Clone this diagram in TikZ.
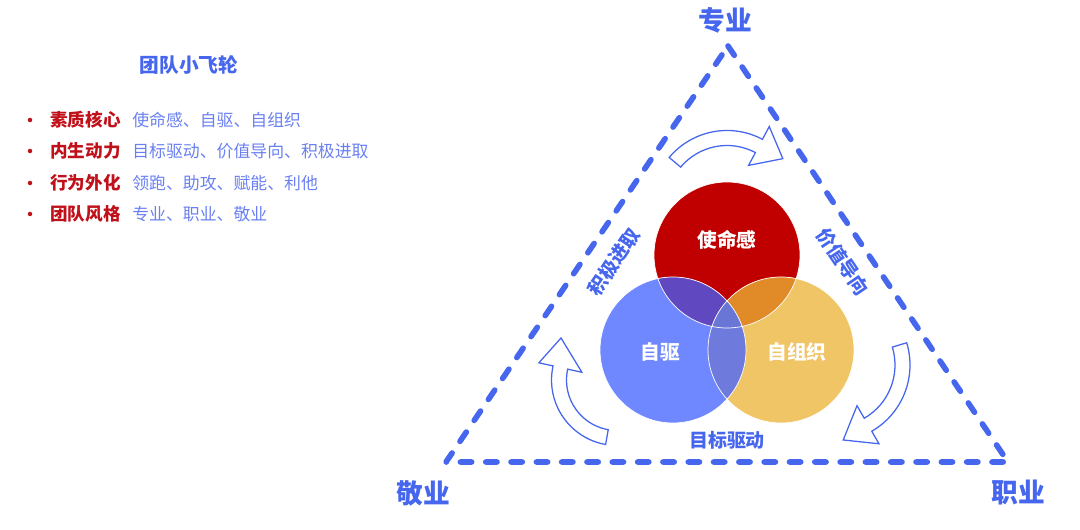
\documentclass[tikz,border=0pt]{standalone}
\usepackage{fontspec}
\setmainfont{Noto Sans CJK SC}
\usetikzlibrary{calc}
\definecolor{flyblue}{HTML}{4666EE}
\definecolor{listblue}{HTML}{6A80F2}
\definecolor{keyred}{HTML}{C0101A}
\definecolor{missionred}{HTML}{C00000}
\definecolor{driveblue}{HTML}{7088FF}
\definecolor{teamyellow}{HTML}{F0C566}
\definecolor{redblue}{HTML}{6048C0}
\definecolor{redyellow}{HTML}{E08A28}
\definecolor{blueyellow}{HTML}{6E7ADC}
\definecolor{allthree}{HTML}{6A76D6}

% curved block arrow: centre, radius, tail angle, head angle, tip angle, tip radius
\newcommand{\bendarrow}[6]{%
  \draw[bendarrow] ($(#1)+({#3}:{#2+7.5})$) arc[start angle=#3, end angle=#4, radius=#2+7.5]
    -- ($(#1)+({#4}:{#2+22})$) -- ($(#1)+({#5}:{#6})$) -- ($(#1)+({#4}:{#2-22})$)
    -- ($(#1)+({#4}:{#2-7.5})$) arc[start angle=#4, end angle=#3, radius=#2-7.5] -- cycle;}

\begin{document}
\begin{tikzpicture}[x=0.025cm, y=0.025cm,
  tri/.style={draw=flyblue, line width=4pt, line cap=round, line join=round,
              dash pattern=on 8pt off 10pt},
  bendarrow/.style={draw=flyblue, fill=white, line width=0.9pt},
  ring/.style={draw=white, line width=0.5pt},
  inlabel/.style={text=white, font=\fontsize{14}{16}\selectfont\bfseries},
  sidelabel/.style={text=flyblue, font=\fontsize{13.5}{15}\selectfont\bfseries},
  cornerlabel/.style={text=flyblue, font=\fontsize{19}{21}\selectfont\bfseries},
  dot/.style={circle, fill=keyred, inner sep=0pt, minimum size=3.2pt},
  keytext/.style={text=keyred, anchor=west, inner sep=0pt, font=\fontsize{12.5}{14}\selectfont\bfseries},
  listtext/.style={text=listblue, anchor=west, inner sep=0pt, font=\fontsize{12}{14}\selectfont}]
  \useasboundingbox (0,0) rectangle (1080,530);

  % left column
  \node[text=flyblue, font=\fontsize{14}{16}\selectfont\bfseries] (title) at (189,465) {团队小飞轮};
  \foreach \y/\key/\txt [count=\i] in {410/素质核心/使命感、自驱、自组织,
      379/内生动力/目标驱动、价值导向、积极进取,
      347/行为外化/领跑、助攻、赋能、利他,
      316/团队风格/专业、职业、敬业}{
    \node[dot] (dot\i) at (30,\y) {};
    \node[keytext] (key\i) at (50,\y) {\key};
    \node[listtext] (item\i) at (132,\y) {\txt};
  }

  % triangle
  \coordinate (apex) at (728,484);
  \coordinate (left) at (446,68);
  \coordinate (right) at (1008,68);
  \draw[tri] (apex) -- (right) -- (left) -- cycle;

  \node[cornerlabel] (pro) at (725,510) {专业};
  \node[cornerlabel] (dedic) at (423,37) {敬业};
  \node[cornerlabel] (job) at (1018,37) {职业};

  \node[sidelabel, rotate=56] (strive) at (614,268) {积极进取};
  \node[sidelabel, rotate=-56] (value) at (843,268) {价值导向};
  \node[sidelabel] (goal) at (727,90) {目标驱动};

  % flywheel arrows
  \coordinate (topc) at (727,324);
  \coordinate (leftc) at (617,150);
  \coordinate (rightc) at (833.5,165);
  \bendarrow{topc}{68}{140}{62}{40.3}{73.2}
  \bendarrow{leftc}{58}{260}{167.6}{143.1}{70}
  \bendarrow{rightc}{69}{16.9}{-60}{-82.6}{75.6}

  % three circles
  \coordinate (mission) at (727,275);
  \coordinate (drive) at (673,180);
  \coordinate (self) at (781,180);
  \fill[missionred] (mission) circle[radius=73];
  \fill[teamyellow] (self) circle[radius=73];
  \fill[driveblue] (drive) circle[radius=73];
  \begin{scope}
    \clip (mission) circle[radius=73];
    \fill[redblue] (drive) circle[radius=73];
    \fill[redyellow] (self) circle[radius=73];
  \end{scope}
  \begin{scope}
    \clip (drive) circle[radius=73];
    \fill[blueyellow] (self) circle[radius=73];
    \clip (self) circle[radius=73];
    \fill[allthree] (mission) circle[radius=73];
  \end{scope}
  \draw[ring] (mission) circle[radius=73] (drive) circle[radius=73] (self) circle[radius=73];

  \node[inlabel] (missiontxt) at (727,290) {使命感};
  \node[inlabel] (drivetxt) at (660,178) {自驱};
  \node[inlabel] (selftxt) at (797,178) {自组织};
\end{tikzpicture}
\end{document}
